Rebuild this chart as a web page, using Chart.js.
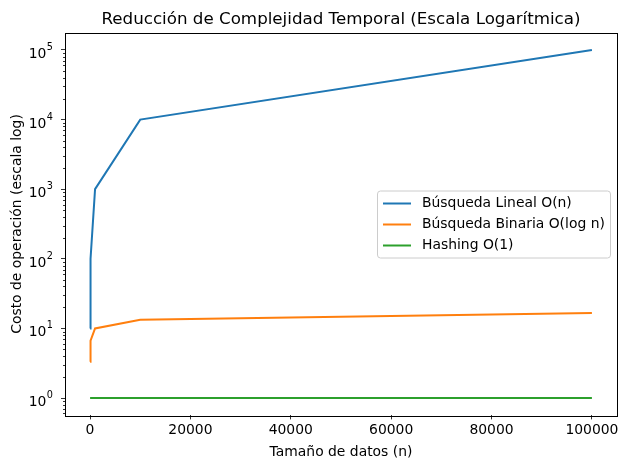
<!DOCTYPE html>
<html>
<head>
<meta charset="utf-8">
<script src="https://cdn.jsdelivr.net/npm/chart.js@4/dist/chart.umd.min.js"></script>
<style>
  html, body { margin: 0; padding: 0; background: #fff; }
  canvas { display: block; }
</style>
</head>
<body>
<canvas id="chart" width="627" height="470"></canvas>
<script>
// data
var nValues = [10, 100, 1000, 10000, 100000];
var linealCost = [10, 100, 1000, 10000, 100000];
var binariaCost = [3.32, 6.64, 9.97, 13.29, 16.61];
var hashingCost = [1, 1, 1, 1, 1];
var seriesLabels = ['Búsqueda Lineal O(n)', 'Búsqueda Binaria O(log n)', 'Hashing O(1)'];
var seriesColors = ['#1f77b4', '#ff7f0e', '#2ca02c'];
var xTicks = [0, 20000, 40000, 60000, 80000, 100000];
var yTicks = [1, 10, 100, 1000, 10000, 100000];
var chartTitle = 'Reducción de Complejidad Temporal (Escala Logarítmica)';

var FONT = 'DejaVu Sans';

function toPoints(ys) {
    return nValues.map(function (n, i) { return {x: n, y: ys[i]}; });
}

// title over the plot, log tick labels, box, minor log ticks and the legend
var decorPlugin = {
    id: 'decor',
    afterDraw: function (chart) {
        var ctx = chart.ctx;
        var a = chart.chartArea;
        var ys = chart.scales.y;
        ctx.save();

        // title centred on the axes
        ctx.fillStyle = '#000';
        ctx.font = '16.7px "' + FONT + '"';
        ctx.textAlign = 'center';
        ctx.textBaseline = 'alphabetic';
        ctx.fillText(chartTitle, (a.left + a.right) / 2, 24);

        // y tick labels as 10 with a raised exponent
        ctx.textAlign = 'right';
        ys.ticks.forEach(function (t) {
            var py = ys.getPixelForValue(t.value);
            var exp = String(Math.round(Math.log10(t.value)));
            var right = a.left - 12;
            ctx.font = '9.7px "' + FONT + '"';
            var ew = ctx.measureText(exp).width;
            ctx.fillText(exp, right, py + 0);
            ctx.font = '13.9px "' + FONT + '"';
            ctx.fillText('10', right - ew - 0.5, py + 8);
        });

        // minor ticks on the log axis
        ctx.strokeStyle = '#000';
        ctx.lineWidth = 0.8;
        for (var e = -1; e <= 5; e++) {
            for (var m = 2; m <= 9; m++) {
                var v = m * Math.pow(10, e);
                if (v < ys.min || v > ys.max) continue;
                var py = Math.round(ys.getPixelForValue(v)) + 0.5;
                ctx.beginPath();
                ctx.moveTo(a.left, py);
                ctx.lineTo(a.left - 2, py);
                ctx.stroke();
            }
        }

        // frame
        ctx.lineWidth = 1;
        ctx.strokeRect(Math.round(a.left) + 0.5, Math.round(a.top) + 0.5,
            Math.round(a.right - a.left), Math.round(a.bottom - a.top));

        // legend, centre right
        var bw = 233, bh = 67;
        var bx = a.right - 7 - bw;
        var by = a.top + (a.bottom - a.top - bh) / 2;
        ctx.fillStyle = 'rgba(255,255,255,0.8)';
        ctx.strokeStyle = '#cccccc';
        ctx.lineWidth = 1;
        ctx.beginPath();
        ctx.roundRect(bx + 0.5, by + 0.5, bw, bh, 3);
        ctx.fill();
        ctx.stroke();
        ctx.font = '13.9px "' + FONT + '"';
        ctx.textAlign = 'left';
        ctx.textBaseline = 'middle';
        chart.data.datasets.forEach(function (ds, i) {
            var ry = by + 13 + i * 21;
            ctx.strokeStyle = ds.borderColor;
            ctx.lineWidth = 2;
            ctx.beginPath();
            ctx.moveTo(bx + 6, ry);
            ctx.lineTo(bx + 34, ry);
            ctx.stroke();
            ctx.fillStyle = '#000';
            ctx.fillText(ds.label, bx + 45, ry);
        });
        ctx.restore();
    }
};

var datasets = [linealCost, binariaCost, hashingCost].map(function (ys, i) {
    return {
        label: seriesLabels[i],
        data: toPoints(ys),
        borderColor: seriesColors[i],
        backgroundColor: seriesColors[i],
        borderWidth: 2,
        pointRadius: 0,
        tension: 0,
        fill: false
    };
});

new Chart(document.getElementById('chart'), {
    type: 'line',
    data: {datasets: datasets},
    plugins: [decorPlugin],
    options: {
        responsive: false,
        animation: false,
        layout: {padding: {left: 0, right: 10, top: 32.6, bottom: 0}},
        plugins: {
            legend: {display: false},
            tooltip: {enabled: false},
            title: {display: false}
        },
        scales: {
            x: {
                type: 'linear',
                min: -4989.5,
                max: 104999.5,
                afterBuildTicks: function (scale) {
                    scale.ticks = xTicks.map(function (v) { return {value: v}; });
                },
                afterFit: function (scale) { scale.height = 54.6; },
                grid: {display: true, drawOnChartArea: false, drawTicks: true, tickLength: 4, color: '#000', tickWidth: 0.8},
                border: {display: false},
                ticks: {
                    color: '#000',
                    font: {family: FONT, size: 13.9},
                    padding: 3,
                    maxRotation: 0,
                    callback: function (v) { return String(v); }
                },
                title: {
                    display: true,
                    text: 'Tamaño de datos (n)',
                    color: '#000',
                    font: {family: FONT, size: 13.9},
                    padding: {top: 2, bottom: 9}
                }
            },
            y: {
                type: 'logarithmic',
                min: Math.pow(10, -0.25),
                max: Math.pow(10, 5.25),
                afterBuildTicks: function (scale) {
                    scale.ticks = yTicks.map(function (v) { return {value: v}; });
                },
                afterFit: function (scale) { scale.width = 65; },
                grid: {display: true, drawOnChartArea: false, drawTicks: true, tickLength: 4, color: '#000', tickWidth: 0.8},
                border: {display: false},
                ticks: {
                    // drawn by the decor plugin with a raised exponent
                    callback: function () { return ''; }
                },
                title: {
                    display: true,
                    text: 'Costo de operación (escala log)',
                    color: '#000',
                    font: {family: FONT, size: 13.9},
                    padding: {top: 9, bottom: 0}
                }
            }
        }
    }
});
</script>
</body>
</html>
